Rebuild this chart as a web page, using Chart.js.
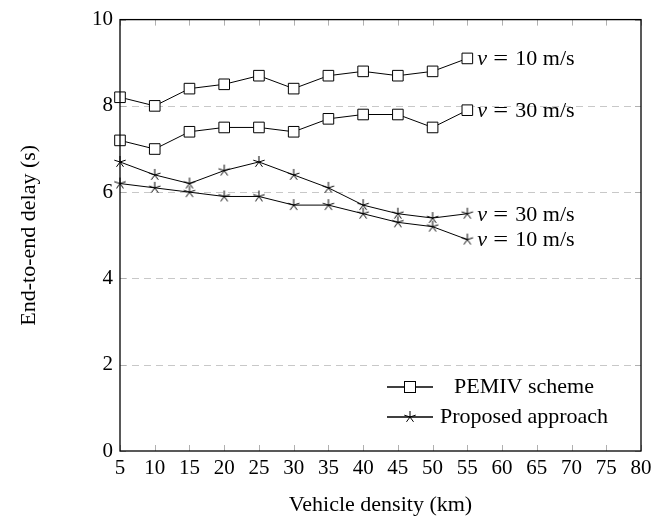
<!DOCTYPE html>
<html>
<head>
<meta charset="utf-8">
<script src="https://cdn.jsdelivr.net/npm/chart.js@4/dist/chart.umd.min.js"></script>
<style>
html,body{margin:0;padding:0;background:#fff;}
#wrap{width:667px;height:519px;}
</style>
</head>
<body>
<div id="wrap"><canvas id="c" width="667" height="519"></canvas></div>
<script>
// ---- data ----
const densities = [5, 10, 15, 20, 25, 30, 35, 40, 45, 50, 55];
const pemiv10 = [8.2, 8.0, 8.4, 8.5, 8.7, 8.4, 8.7, 8.8, 8.7, 8.8, 9.1];
const pemiv30 = [7.2, 7.0, 7.4, 7.5, 7.5, 7.4, 7.7, 7.8, 7.8, 7.5, 7.9];
const proposed30 = [6.7, 6.4, 6.2, 6.5, 6.7, 6.4, 6.1, 5.7, 5.5, 5.4, 5.5];
const proposed10 = [6.2, 6.1, 6.0, 5.9, 5.9, 5.7, 5.7, 5.5, 5.3, 5.2, 4.9];
const xTickValues = [5, 10, 15, 20, 25, 30, 35, 40, 45, 50, 55, 60, 65, 70, 75, 80];
const yTickValues = [0, 2, 4, 6, 8, 10];
const seriesSpeeds = ["10 m/s", "30 m/s", "30 m/s", "10 m/s"];
const legendNames = ["PEMIV scheme", "Proposed approach"];
const xTitle = "Vehicle density (km)";
const yTitle = "End-to-end delay (s)";

const FONT = '"Liberation Serif", "DejaVu Serif", serif';

function toPts(vals){ return densities.map((d,i)=>({x:d,y:vals[i]})); }

// star marker (5-arm asterisk)
function makeStar(){
  const c = document.createElement('canvas');
  c.width = 14; c.height = 14;
  const g = c.getContext('2d');
  g.strokeStyle = '#000'; g.lineWidth = 1;
  g.beginPath();
  for (let k=0;k<5;k++){
    const a = -Math.PI/2 + k*2*Math.PI/5;
    g.moveTo(7,7);
    g.lineTo(7+6*Math.cos(a), 7+6*Math.sin(a));
  }
  g.stroke();
  return c;
}
const starImg = makeStar();

function ds(vals, isSquare){
  return {
    data: toPts(vals),
    borderColor:'#000', borderWidth:1,
    pointStyle: isSquare ? 'rect' : starImg,
    pointRadius: isSquare ? 7.5 : 6,
    pointBackgroundColor:'#fff', pointBorderColor:'#000', pointBorderWidth:1,
    tension:0, fill:false, clip:false
  };
}

const decor = {
  id:'decor',
  beforeDatasetsDraw(chart){
    const ctx = chart.ctx, a = chart.chartArea;
    const xs = chart.scales.x, ys = chart.scales.y;
    ctx.save();
    // dashed horizontal grid
    ctx.strokeStyle = '#c8c8c8'; ctx.lineWidth = 1; ctx.setLineDash([7,5]);
    yTickValues.forEach(v=>{
      if (v===0 || v===10) return;
      const y = Math.round(ys.getPixelForValue(v))+0.5;
      ctx.beginPath(); ctx.moveTo(a.left,y); ctx.lineTo(a.right,y); ctx.stroke();
    });
    ctx.setLineDash([]);
    // inward ticks
    ctx.strokeStyle = '#b0b0b0';
    xTickValues.forEach(v=>{
      const x = Math.round(xs.getPixelForValue(v))+0.5;
      ctx.beginPath();
      ctx.moveTo(x,a.bottom); ctx.lineTo(x,a.bottom-6);
      ctx.moveTo(x,a.top); ctx.lineTo(x,a.top+6);
      ctx.stroke();
    });
    yTickValues.forEach(v=>{
      const y = Math.round(ys.getPixelForValue(v))+0.5;
      ctx.beginPath();
      ctx.moveTo(a.left,y); ctx.lineTo(a.left+6,y);
      ctx.moveTo(a.right,y); ctx.lineTo(a.right-6,y);
      ctx.stroke();
    });
    ctx.restore();
  },
  afterDraw(chart){
    const ctx = chart.ctx, a = chart.chartArea;
    const xs = chart.scales.x, ys = chart.scales.y;
    ctx.save();
    // frame
    ctx.strokeStyle = '#000'; ctx.lineWidth = 1.3;
    ctx.strokeRect(a.left, a.top, a.right-a.left, a.bottom-a.top);
    // series annotations
    const lastVals = [pemiv10, pemiv30, proposed30, proposed10].map(s=>s[s.length-1]);
    ctx.fillStyle = '#000'; ctx.textBaseline = 'middle'; ctx.textAlign = 'left';
    lastVals.forEach((v,i)=>{
      const x = xs.getPixelForValue(densities[densities.length-1]) + 10;
      const y = ys.getPixelForValue(v) + 1;
      ctx.font = 'italic 22px ' + FONT;
      ctx.fillText('v', x, y);
      ctx.font = '22px ' + FONT;
      ctx.save();
      ctx.translate(x + 16, y);
      ctx.scale(1.2, 1);
      ctx.fillText('=', 0, 0);
      ctx.restore();
      ctx.fillText(seriesSpeeds[i], x + 38, y);
    });
    // legend
    const lx0 = 387, lx1 = 433, cx = 524;
    const rows = [387, 417];
    ctx.strokeStyle = '#000';
    rows.forEach((ry,i)=>{
      ctx.lineWidth = 1.6;
      ctx.beginPath(); ctx.moveTo(lx0, ry); ctx.lineTo(lx1, ry); ctx.stroke();
      const mx = (lx0+lx1)/2;
      if (i===0){
        ctx.fillStyle = '#fff'; ctx.lineWidth = 1;
        ctx.fillRect(mx-5.5, ry-5.5, 11, 11);
        ctx.strokeRect(mx-5.5, ry-5.5, 11, 11);
      } else {
        ctx.drawImage(starImg, mx-7, ry-7);
      }
      ctx.fillStyle = '#000';
      ctx.font = '22px ' + FONT;
      ctx.textAlign = 'center'; ctx.textBaseline = 'middle';
      ctx.fillText(legendNames[i], cx, ry);
    });
    // axis titles
    ctx.font = '22px ' + FONT;
    ctx.textAlign = 'center'; ctx.textBaseline = 'middle';
    ctx.fillText(xTitle, (a.left+a.right)/2, 505);
    ctx.translate(29, (a.top+a.bottom)/2);
    ctx.rotate(-Math.PI/2);
    ctx.fillText(yTitle, 0, 0);
    ctx.restore();
  }
};

new Chart(document.getElementById('c'), {
  type:'line',
  data:{ datasets:[ ds(pemiv10,true), ds(pemiv30,true), ds(proposed30,false), ds(proposed10,false) ] },
  options:{
    responsive:false, animation:false,
    devicePixelRatio:1,
    layout:{ padding:{ top:18, right:26, left:0, bottom:0 } },
    plugins:{ legend:{display:false}, tooltip:{enabled:false} },
    scales:{
      x:{
        type:'linear', min:5, max:80,
        afterBuildTicks(s){ s.ticks = xTickValues.map(v=>({value:v})); },
        afterFit(s){ s.height = 68; },
        grid:{ display:false, drawTicks:false },
        border:{ display:false },
        ticks:{ color:'#000', font:{family:FONT, size:21}, padding:5, maxRotation:0, autoSkip:false }
      },
      y:{
        min:0, max:10,
        afterBuildTicks(s){ s.ticks = yTickValues.map(v=>({value:v})); },
        afterFit(s){ s.width = 120; },
        grid:{ display:false, drawTicks:false },
        border:{ display:false },
        ticks:{ color:'#000', font:{family:FONT, size:21}, padding:7 }
      }
    }
  },
  plugins:[decor]
});
</script>
</body>
</html>
